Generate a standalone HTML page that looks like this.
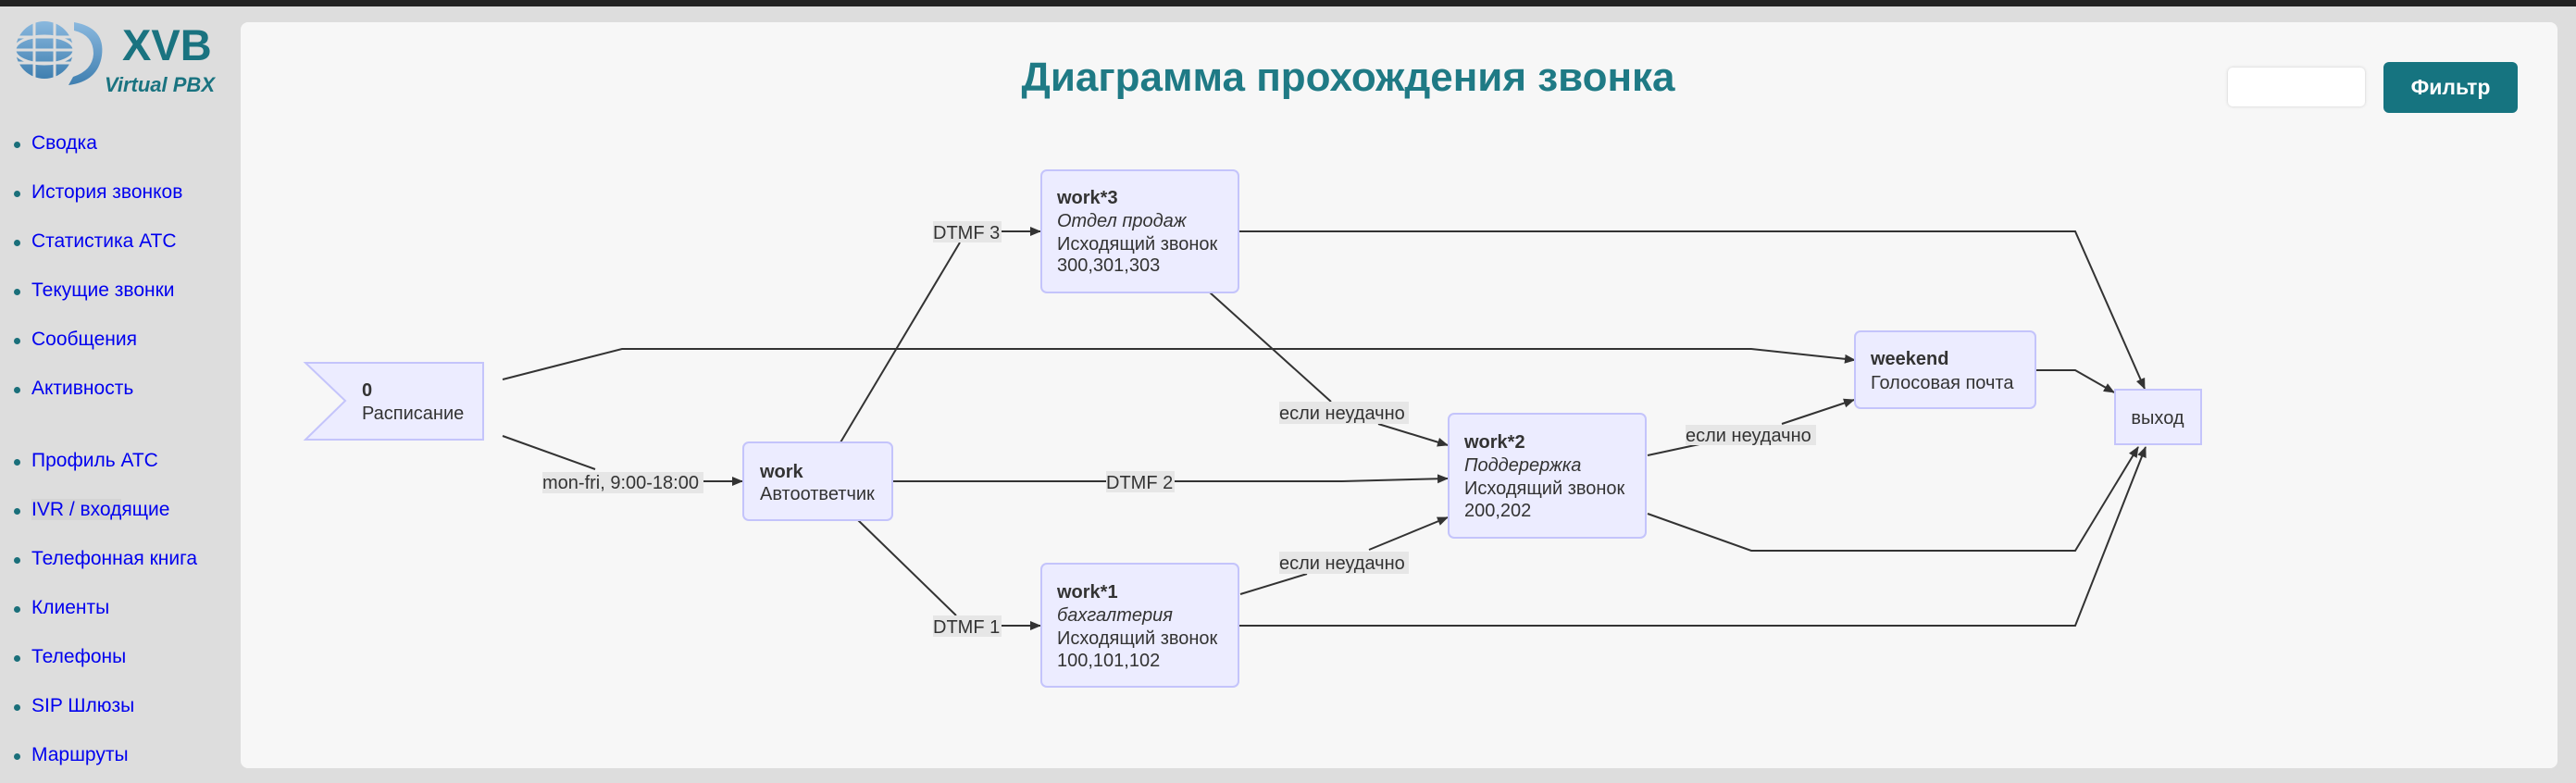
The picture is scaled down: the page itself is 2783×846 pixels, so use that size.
<!DOCTYPE html>
<html><head><meta charset="utf-8"><style>
html,body{margin:0;padding:0}
body{width:2783px;height:846px;background:#dddddd;position:relative;overflow:hidden;font-family:"Liberation Sans","DejaVu Sans",sans-serif}
.top{position:absolute;left:0;top:0;width:2783px;height:7px;background:#222}
.panel{position:absolute;left:260px;top:24px;width:2503px;height:806px;background:#f7f7f7;border-radius:8px}
.mi{position:absolute;left:34px;font-size:21px;color:#0000ee;white-space:nowrap}
.mi:before{content:"";position:absolute;left:-19px;top:10px;width:7px;height:7px;border-radius:50%;background:#1a6f7a}
.title{position:absolute;left:0;width:2783px;top:59px;text-align:center;font-size:44px;font-weight:bold;color:#1f7a85;text-indent:130px}
.inp{position:absolute;left:2407px;top:73px;width:148px;height:42px;background:#fff;border-radius:5px;box-shadow:0 0 3px #ccc}
.btn{position:absolute;left:2575px;top:67px;width:145px;height:55px;background:#167480;border-radius:6px;color:#fff;font-weight:bold;font-size:23px;text-align:center;line-height:55px}
</style></head><body>
<div class="top"></div>
<svg style="position:absolute;left:0;top:0" width="260" height="120">
<defs><linearGradient id="g" x1="0" y1="0" x2="0" y2="1"><stop offset="0" stop-color="#8ab8de"/><stop offset="1" stop-color="#3f7fb0"/></linearGradient></defs>
<circle cx="48" cy="54" r="31" fill="url(#g)"/>
<g stroke="#dddddd" stroke-width="3" fill="none">
<line x1="16" y1="40" x2="80" y2="40"/><line x1="16" y1="54" x2="80" y2="54"/><line x1="16" y1="68" x2="80" y2="68"/>
<line x1="37" y1="22" x2="37" y2="86"/><line x1="59" y1="22" x2="59" y2="86"/>
<ellipse cx="48" cy="54" rx="32" ry="15"/>
</g>
<path d="M80 24 Q114 30 110 60 Q106 88 74 92 L79 83 Q100 76 101 58 Q101 38 80 33 Z" fill="url(#g)"/>
<text x="132" y="65" font-size="47" font-weight="bold" fill="#1a7380" font-family="Liberation Sans">XVB</text>
<text x="113" y="99" font-size="22" font-weight="bold" font-style="italic" fill="#1a7380" font-family="Liberation Sans">Virtual PBX</text>
</svg>
<div class="mi" style="top:143px">Сводка</div>
<div class="mi" style="top:196px">История звонков</div>
<div class="mi" style="top:249px">Статистика АТС</div>
<div class="mi" style="top:302px">Текущие звонки</div>
<div class="mi" style="top:355px">Сообщения</div>
<div class="mi" style="top:408px">Активность</div>
<div class="mi" style="top:486px">Профиль АТС</div>
<div class="mi" style="top:539px"><span style="background:#d4d4d4">IVR / вход</span>ящие</div>
<div class="mi" style="top:592px">Телефонная книга</div>
<div class="mi" style="top:645px">Клиенты</div>
<div class="mi" style="top:698px">Телефоны</div>
<div class="mi" style="top:751px">SIP Шлюзы</div>
<div class="mi" style="top:804px">Маршруты</div>
<div class="panel"></div>
<div class="title">Диаграмма прохождения звонка</div>
<div class="inp"></div>
<div class="btn">Фильтр</div>
<svg style="position:absolute;left:0;top:0" width="2783" height="846" font-family="Liberation Sans" font-size="20" fill="#333">
<defs><marker id="a" markerWidth="12" markerHeight="12" refX="11" refY="6" orient="auto" markerUnits="userSpaceOnUse"><path d="M0,1 L12,6 L0,11 Z" fill="#333"/></marker></defs>
<g stroke="#333" stroke-width="2" fill="none">
<polyline points="543,410 672,377 1892,377 2004,389" marker-end="url(#a)"/>
<polyline points="543,471 643,507"/>
<line x1="760" y1="520" x2="802" y2="520" marker-end="url(#a)"/>
<line x1="908" y1="478" x2="1037" y2="262"/>
<line x1="1082" y1="250" x2="1124" y2="250" marker-end="url(#a)"/>
<line x1="927" y1="562" x2="1033" y2="665"/>
<line x1="1082" y1="676" x2="1124" y2="676" marker-end="url(#a)"/>
<polyline points="964,520 1195,520"/>
<polyline points="1269,520 1450,520 1564,517" marker-end="url(#a)"/>
<line x1="1307" y1="316" x2="1438" y2="434"/>
<line x1="1489" y1="458" x2="1564" y2="481" marker-end="url(#a)"/>
<line x1="1340" y1="642" x2="1412" y2="620"/>
<line x1="1479" y1="594" x2="1564" y2="559" marker-end="url(#a)"/>
<polyline points="1338,250 2242,250 2317,420" marker-end="url(#a)"/>
<polyline points="2200,400 2242,400 2284,424" marker-end="url(#a)"/>
<line x1="1780" y1="492" x2="1836" y2="480"/>
<line x1="1925" y1="458" x2="2003" y2="432" marker-end="url(#a)"/>
<polyline points="1780,555 1892,595 2242,595 2310,483" marker-end="url(#a)"/>
<polyline points="1338,676 2242,676 2318,483" marker-end="url(#a)"/>
</g>
<g fill="#ececff" stroke="#c4c4fb" stroke-width="2">
<polygon points="330,392 522,392 522,475 330,475 373,433"/>
<rect x="803" y="478" width="161" height="84" rx="6"/>
<rect x="1125" y="184" width="213" height="132" rx="6"/>
<rect x="1125" y="609" width="213" height="133" rx="6"/>
<rect x="1565" y="447" width="213" height="134" rx="6"/>
<rect x="2004" y="358" width="195" height="83" rx="6"/>
<rect x="2285" y="421" width="93" height="59"/>
</g>
<g fill="#e6e6e6">
<rect x="586" y="510" width="174" height="23"/>
<rect x="1008" y="239" width="74" height="23"/>
<rect x="1008" y="665" width="74" height="23"/>
<rect x="1195" y="509" width="74" height="23"/>
<rect x="1382" y="434" width="140" height="24"/>
<rect x="1382" y="596" width="140" height="24"/>
<rect x="1821" y="459" width="141" height="22"/>
</g>
<g>
<text x="586" y="528">mon-fri, 9:00-18:00</text>
<text x="1008" y="258">DTMF 3</text>
<text x="1008" y="684">DTMF 1</text>
<text x="1195" y="528">DTMF 2</text>
<text x="1382" y="453">если неудачно</text>
<text x="1382" y="615">если неудачно</text>
<text x="1821" y="477">если неудачно</text>
<text x="391" y="428" font-weight="bold">0</text>
<text x="391" y="453">Расписание</text>
<text x="821" y="516" font-weight="bold">work</text>
<text x="821" y="540">Автоответчик</text>
<text x="1142" y="220" font-weight="bold">work*3</text>
<text x="1142" y="245" font-style="italic">Отдел продаж</text>
<text x="1142" y="270">Исходящий звонок</text>
<text x="1142" y="293">300,301,303</text>
<text x="1142" y="646" font-weight="bold">work*1</text>
<text x="1142" y="671" font-style="italic">бахгалтерия</text>
<text x="1142" y="696">Исходящий звонок</text>
<text x="1142" y="720">100,101,102</text>
<text x="1582" y="484" font-weight="bold">work*2</text>
<text x="1582" y="509" font-style="italic">Поддерержка</text>
<text x="1582" y="534">Исходящий звонок</text>
<text x="1582" y="558">200,202</text>
<text x="2021" y="394" font-weight="bold">weekend</text>
<text x="2021" y="420">Голосовая почта</text>
<text x="2331" y="458" text-anchor="middle">выход</text>
</g>
</svg>
</body></html>
